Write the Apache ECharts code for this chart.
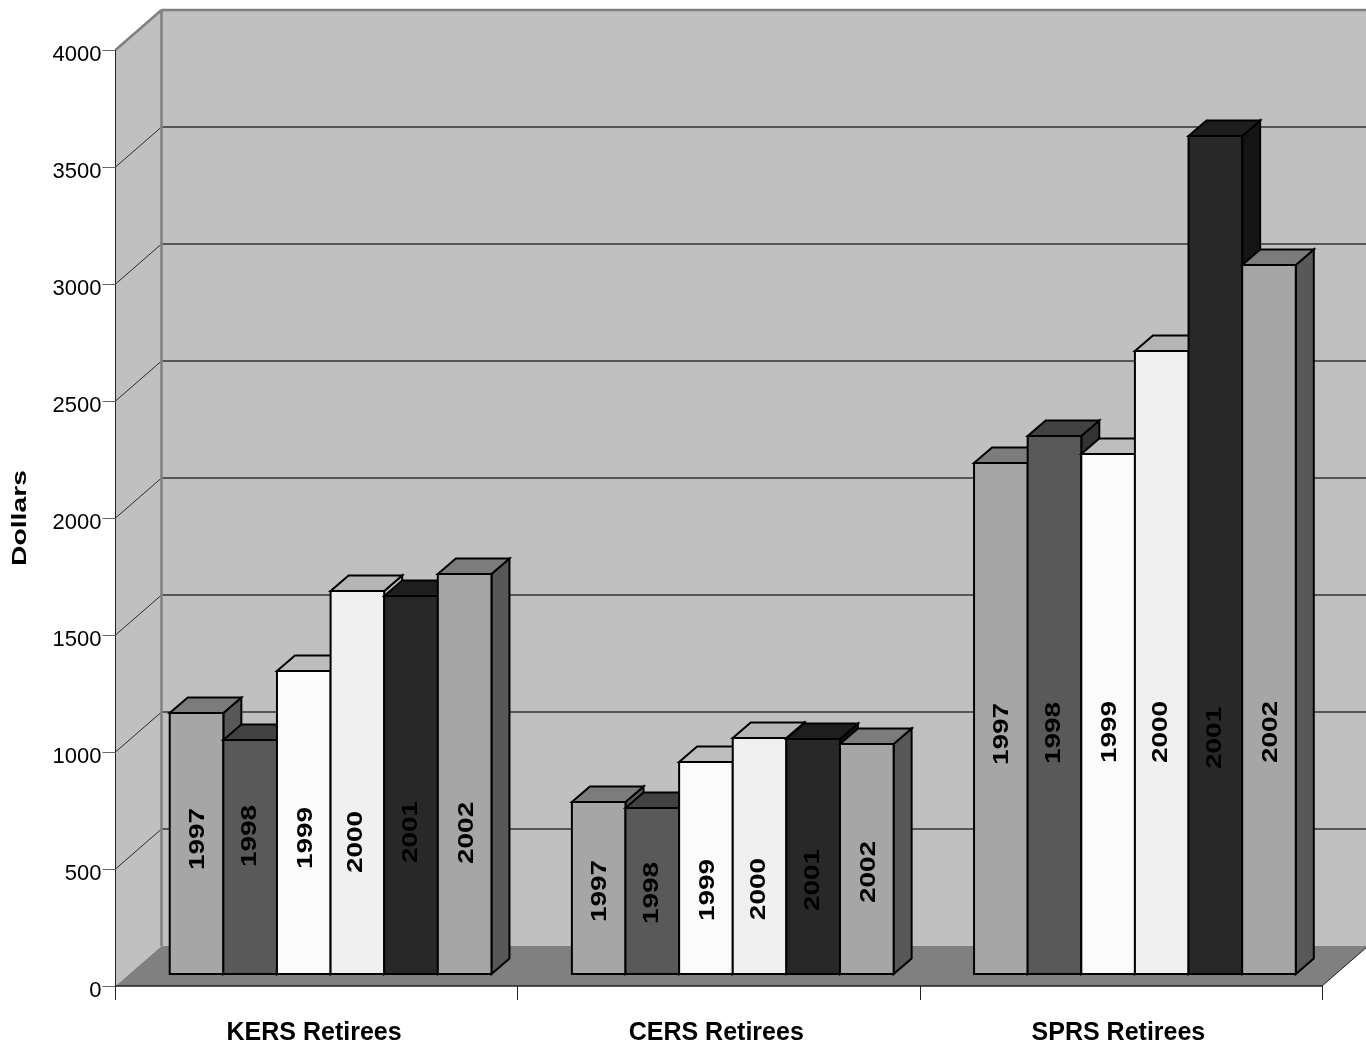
<!DOCTYPE html>
<html>
<head>
<meta charset="utf-8">
<style>html,body{margin:0;padding:0;background:#fff}#c{width:1366px;height:1045px}</style>
<script src="https://cdn.jsdelivr.net/npm/echarts@6/dist/echarts.min.js"></script>
</head>
<body>
<div id="c"></div>
<script>
const categories = ['KERS Retirees', 'CERS Retirees', 'SPRS Retirees'];
const years = ['1997', '1998', '1999', '2000', '2001', '2002'];
const yTicks = [0, 500, 1000, 1500, 2000, 2500, 3000, 3500, 4000];
const kersValues = [1115, 1000, 1295, 1637, 1615, 1709];
const cersValues = [735, 709, 906, 1009, 1004, 983];
const sprsValues = [2184, 2299, 2222, 2662, 3581, 3030];
// value level at which each rotated year label is centred
const kersLabelLevels = [577, 590, 581, 564, 607, 603];
const cersLabelLevels = [355, 346, 359, 363, 402, 436];
const sprsLabelLevels = [1026, 1030, 1034, 1034, 1009, 1034];

const valueSets = [kersValues, cersValues, sprsValues];
const levelSets = [kersLabelLevels, cersLabelLevels, sprsLabelLevels];

const FONT = '"Liberation Sans", Arial, sans-serif';
const WALL = [46, -40], BAR_ORIGIN = [14, -12], BAR_DEPTH = [18, -15.5];
const BAR_FILL = 0.8;
const faces = [
  { front: '#a6a6a6', top: '#7c7c7c', side: '#585858' },
  { front: '#595959', top: '#424242', side: '#333333' },
  { front: '#fbfbfb', top: '#bdbdbd', side: '#8a8a8a' },
  { front: '#f0f0f0', top: '#b5b5b5', side: '#bfbfbf' },
  { front: '#282828', top: '#1e1e1e', side: '#141414' },
  { front: '#a6a6a6', top: '#7c7c7c', side: '#585858' }
];
const labelShift = [1, -0.5, 2, -1, 0, 2];

function poly(pts, fill, stroke, lw) {
  return { type: 'polygon', shape: { points: pts },
    style: { fill: fill, stroke: stroke || 'none', lineWidth: lw || 0, lineJoin: 'miter' } };
}
function line(a, b, stroke, lw) {
  return { type: 'line', shape: { x1: a[0], y1: a[1], x2: b[0], y2: b[1] },
    style: { stroke: stroke, lineWidth: lw } };
}
function add(p, d) { return [p[0] + d[0], p[1] + d[1]]; }

function renderFrame(params, api) {
  const band = api.size([1, 0])[0];
  const left0 = api.coord([0, 0]); left0[0] -= band / 2;
  const right0 = api.coord([categories.length - 1, 0]); right0[0] += band / 2;
  const left4 = api.coord([0, 4000]); left4[0] -= band / 2;
  const right4 = api.coord([categories.length - 1, 4000]); right4[0] += band / 2;
  const ch = [
    poly([add(left4, WALL), add(right4, WALL), add(right0, WALL), add(left0, WALL)], '#c0c0c0'),
    poly([left4, add(left4, WALL), add(left0, WALL), left0], '#c0c0c0'),
    poly([left0, right0, add(right0, WALL), add(left0, WALL)], '#808080')
  ];
  yTicks.forEach(function (t) {
    if (t === 0 || t === 4000) return;
    const a = api.coord([0, t]); a[0] -= band / 2;
    const b = api.coord([categories.length - 1, t]); b[0] += band / 2;
    ch.push(line(a, add(a, WALL), '#2c2c2c', 1));
    ch.push(line(add(a, WALL), add(b, WALL), '#333333', 1.3));
  });
  ch.push(line(add(left4, WALL), add(left0, WALL), '#808080', 2.5));
  ch.push(line(left4, add(left4, WALL), '#808080', 2.5));
  ch.push(line(add(left4, WALL), add(right4, WALL), '#808080', 2.5));
  ch.push(line(right0, add(right0, WALL), '#1a1a1a', 1));
  return { type: 'group', children: ch };
}

function renderBar(params, api) {
  const si = params.seriesIndex - 1;
  const cat = api.value(0), val = api.value(1), lvl = api.value(2);
  const band = api.size([1, 0])[0];
  const w = band * BAR_FILL / years.length;
  const base = api.coord([cat, 0]), top = api.coord([cat, val]), mid = api.coord([cat, lvl]);
  const x0 = base[0] - w * years.length / 2 + si * w + BAR_ORIGIN[0];
  const x1 = x0 + w;
  const y0 = base[1] + BAR_ORIGIN[1], y1 = top[1] + BAR_ORIGIN[1];
  const f = faces[si];
  const s = '#000', lw = 2;
  const tl = [x0, y1], tr = [x1, y1], br = [x1, y0];
  return { type: 'group', children: [
    poly([tr, br, add(br, BAR_DEPTH), add(tr, BAR_DEPTH)], f.side, s, lw),
    poly([tl, tr, add(tr, BAR_DEPTH), add(tl, BAR_DEPTH)], f.top, s, lw),
    poly([tl, tr, br, [x0, y0]], f.front, s, lw),
    { type: 'text', x: (x0 + x1) / 2 + labelShift[si], y: mid[1] + BAR_ORIGIN[1],
      rotation: Math.PI / 2, scaleX: 1.27,
      style: { text: years[si], font: 'bold 22px ' + FONT, fill: '#000', align: 'center', verticalAlign: 'middle' } }
  ] };
}

const barSeries = years.map(function (y, si) {
  return {
    name: y, type: 'custom', coordinateSystem: 'cartesian2d', z: 2 + si,
    renderItem: renderBar, encode: { x: 0, y: 1 },
    data: categories.map(function (c, ci) { return [ci, valueSets[ci][si], levelSets[ci][si]]; })
  };
});

const chart = echarts.init(document.getElementById('c'), null, { renderer: 'canvas' });
chart.setOption({
  animation: false,
  backgroundColor: '#ffffff',
  grid: { left: 115.5, right: 44, top: 50, bottom: 59, outerBoundsMode: 'none' },
  xAxis: {
    type: 'category', data: categories,
    axisLine: { show: true, lineStyle: { color: '#222', width: 1.5 } },
    axisTick: { show: true, length: 14, lineStyle: { color: '#222', width: 1 } },
    axisLabel: { fontFamily: FONT, fontWeight: 'bold', fontSize: 25, color: '#000', margin: 35, padding: [0, 5, 0, 0] },
    splitLine: { show: false }
  },
  yAxis: {
    type: 'value', min: 0, max: 4000, interval: 500,
    axisLine: { show: true, lineStyle: { color: '#222', width: 1 } },
    axisTick: { show: true, length: 13, lineStyle: { color: '#666', width: 1 } },
    axisLabel: { fontFamily: FONT, fontSize: 22, color: '#000', margin: 14, verticalAlign: 'top', lineHeight: 10,
      formatter: function (v) { return String(v); } },
    splitLine: { show: false }
  },
  graphic: [{
    type: 'text', x: 20, y: 518, rotation: Math.PI / 2, scaleX: 1.35,
    style: { text: 'Dollars', font: 'bold 21px ' + FONT, fill: '#000', align: 'center', verticalAlign: 'middle' }
  }],
  series: [{
    name: 'frame', type: 'custom', coordinateSystem: 'cartesian2d', z: -1, silent: true,
    renderItem: renderFrame, encode: { x: 0, y: 1 }, data: [[0, 0]]
  }].concat(barSeries)
});
</script>
</body>
</html>
